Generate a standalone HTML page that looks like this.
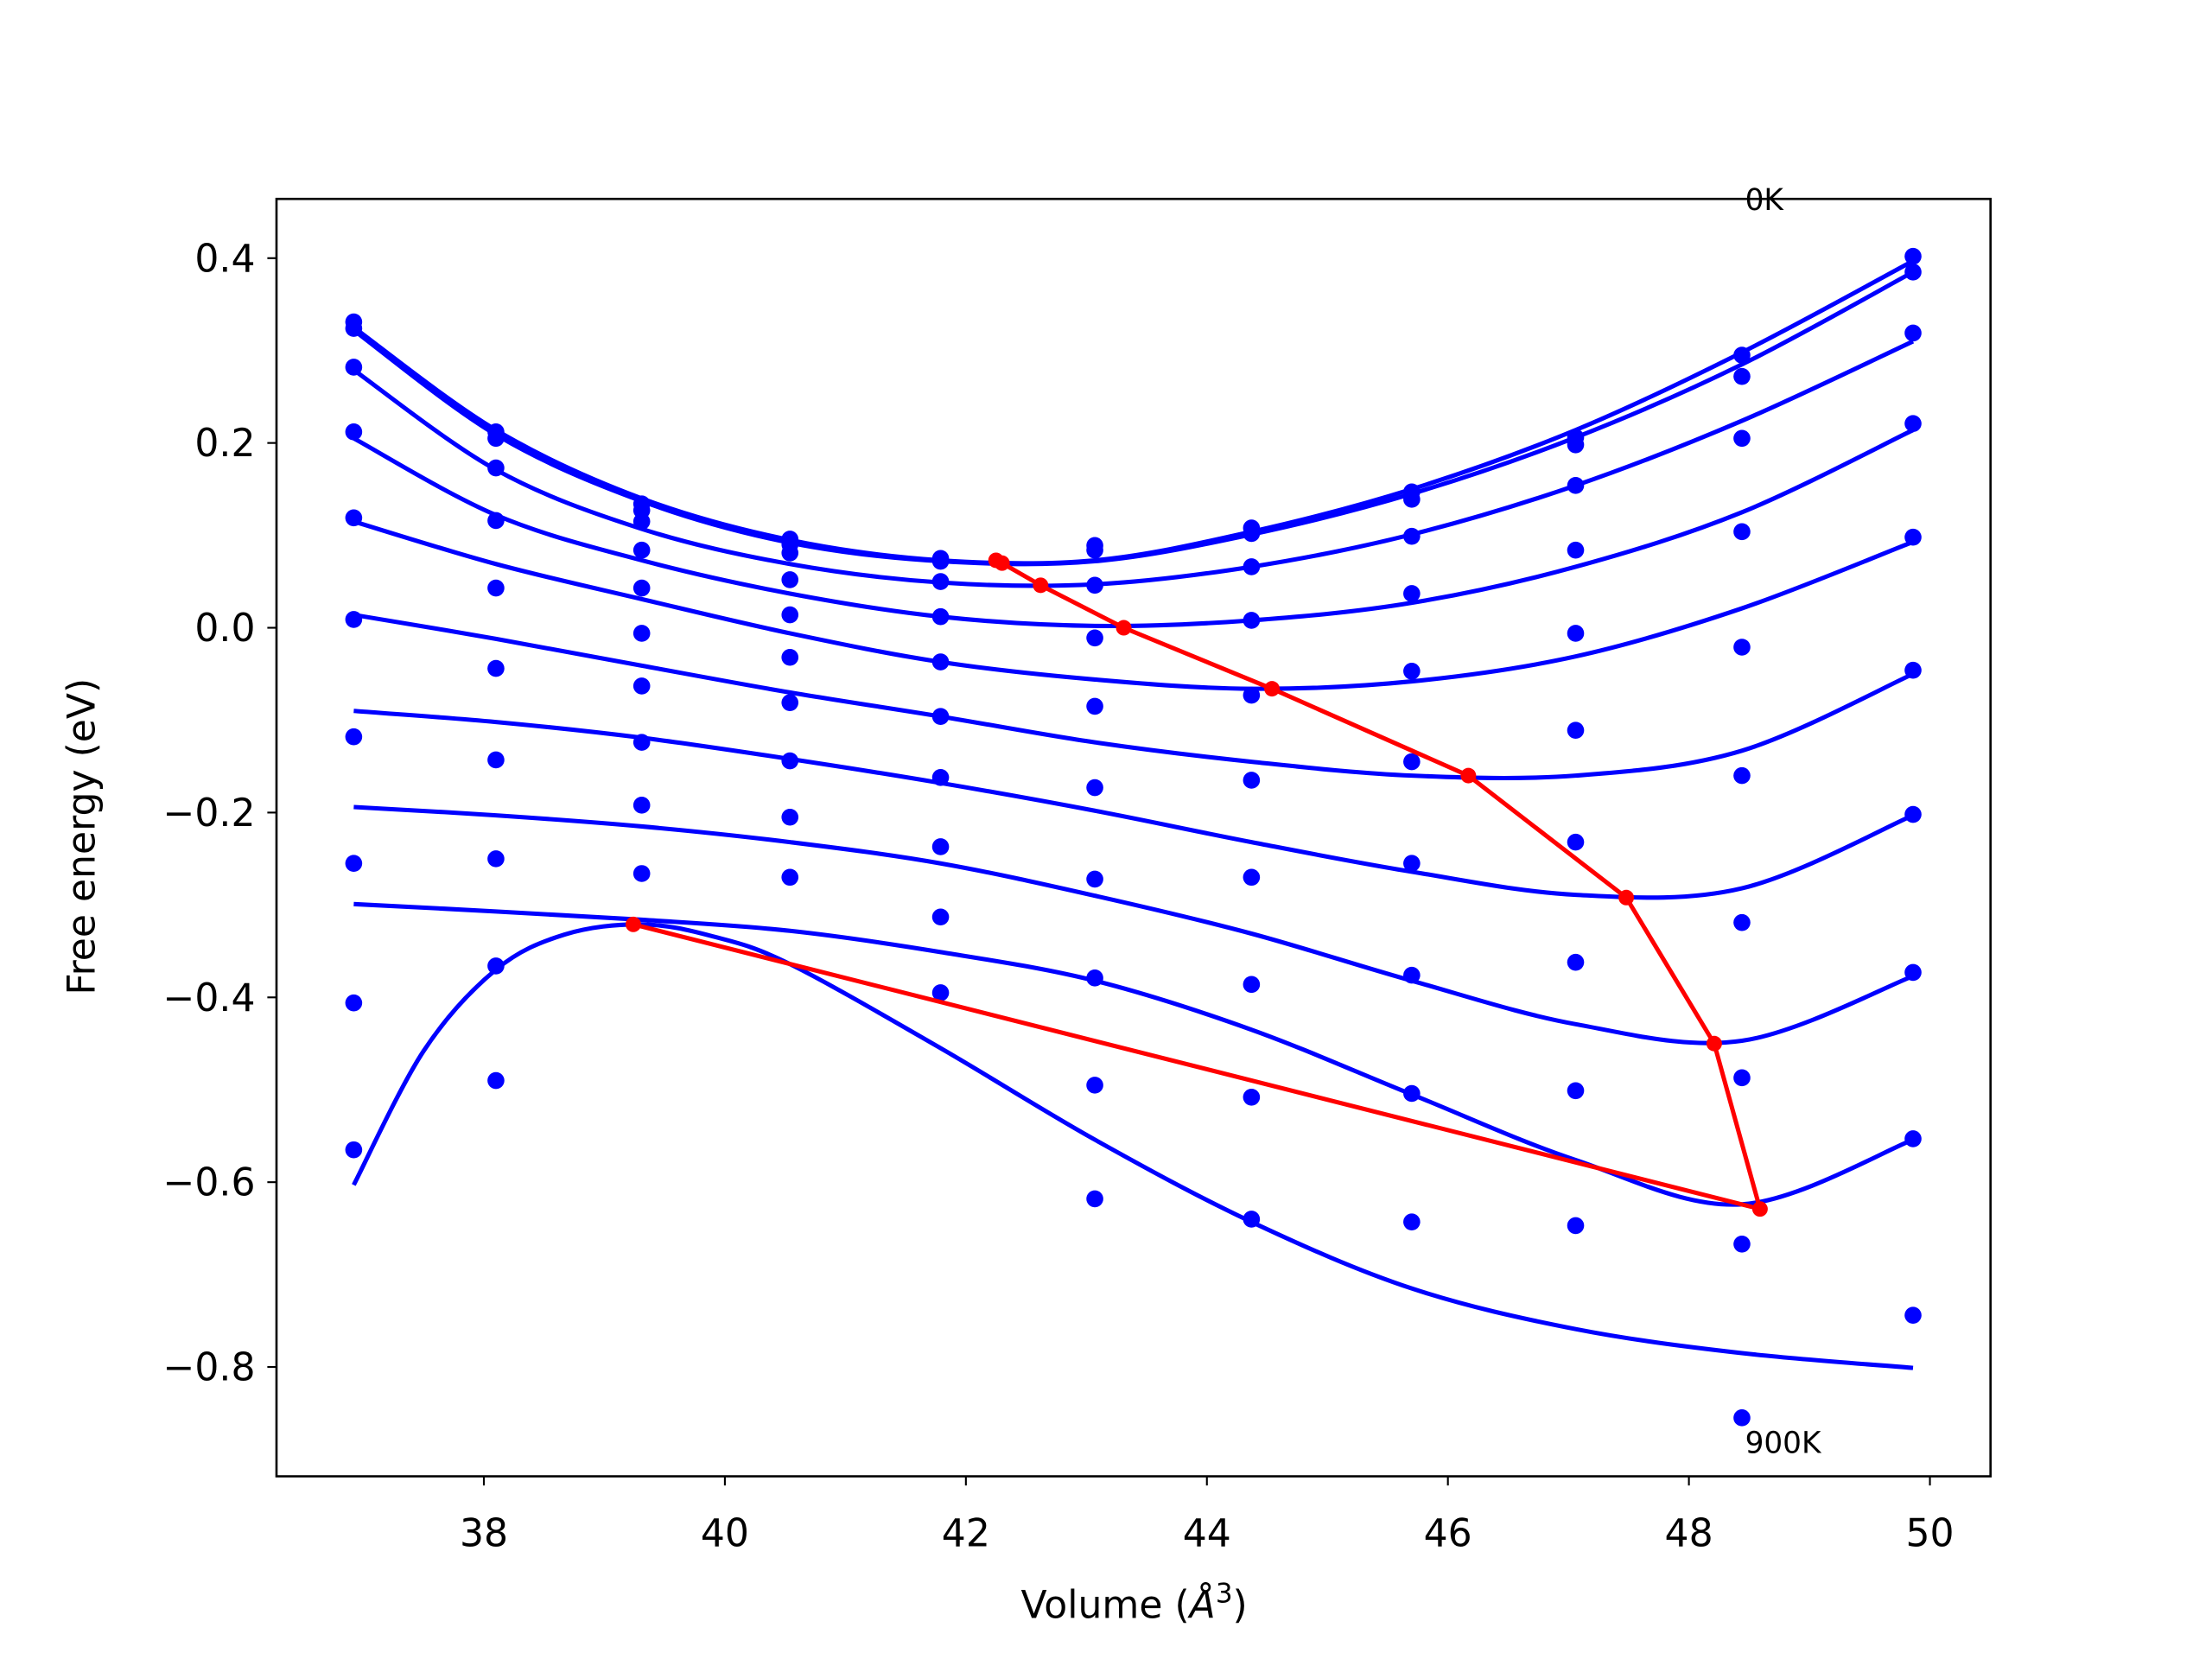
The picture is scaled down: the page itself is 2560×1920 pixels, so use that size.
<!DOCTYPE html>
<html><head><meta charset="utf-8"><style>
html,body{margin:0;padding:0;background:#fff;}
svg{display:block;font-family:"DejaVu Sans","Liberation Sans",sans-serif;}
</style></head><body>
<svg id="chart" width="2560" height="1920" viewBox="0 0 1568 1176" xmlns="http://www.w3.org/2000/svg">
<rect x="0" y="0" width="1568" height="1176" fill="#fff"/>
<g id="plot"></g>
<rect x="196" y="141" width="1215" height="905.5" fill="none" stroke="#000" stroke-width="1.6"/>
<g id="axes"></g>
<text x="804" y="1147" text-anchor="middle" font-size="27">Volume (<tspan font-style="italic">Å</tspan><tspan font-size="19" dy="-11">3</tspan><tspan dy="11">)</tspan></text>
<text transform="translate(67,593) rotate(-90)" text-anchor="middle" font-size="27">Free energy (eV)</text>
<text x="1237" y="149" font-size="21">0K</text>
<text x="1237" y="1030" font-size="21">900K</text>
</svg>
<script>
const volumes = [36.92,38.10,39.31,40.54,41.79,43.07,44.37,45.70,47.06,48.44,49.86];
const temperatures = ["0K","100K","200K","300K","400K","500K","600K","700K","800K","900K"];
const points0 = [0.331,0.212,0.134,0.096,0.075,0.089,0.108,0.147,0.206,0.295,0.402];
const points100 = [0.324,0.205,0.127,0.090,0.072,0.084,0.102,0.139,0.198,0.272,0.385];
const points200 = [0.282,0.173,0.115,0.081,0.050,0.046,0.066,0.099,0.154,0.205,0.319];
const points300 = [0.212,0.116,0.084,0.052,0.012,-0.011,0.008,0.037,0.084,0.104,0.221];
const points400 = [0.119,0.043,0.043,0.014,-0.037,-0.085,-0.073,-0.047,-0.006,-0.021,0.098];
const points500 = [0.009,-0.044,-0.006,-0.032,-0.096,-0.173,-0.165,-0.145,-0.111,-0.160,-0.046];
const points600 = [-0.118,-0.143,-0.063,-0.081,-0.162,-0.272,-0.270,-0.255,-0.232,-0.319,-0.202];
const points700 = [-0.255,-0.250,-0.124,-0.144,-0.237,-0.379,-0.386,-0.376,-0.362,-0.487,-0.373];
const points800 = [-0.406,-0.366,-0.192,-0.205,-0.313,-0.495,-0.508,-0.504,-0.501,-0.667,-0.553];
const points900 = [-0.565,-0.490,-0.266,-0.270,-0.395,-0.618,-0.640,-0.643,-0.647,-0.855,-0.744];
const fit0 = [0.325,0.214,0.140,0.095,0.073,0.073,0.104,0.150,0.214,0.298,0.397];
const fit100 = [0.322,0.209,0.137,0.092,0.072,0.072,0.101,0.145,0.206,0.285,0.385];
const fit200 = [0.279,0.171,0.107,0.069,0.049,0.047,0.066,0.101,0.154,0.224,0.310];
const fit300 = [0.205,0.122,0.073,0.037,0.012,0.002,0.008,0.027,0.066,0.125,0.214];
const fit400 = [0.115,0.069,0.031,-0.006,-0.037,-0.056,-0.066,-0.058,-0.031,0.021,0.093];
const fit500 = [0.014,-0.012,-0.041,-0.070,-0.096,-0.124,-0.145,-0.160,-0.160,-0.133,-0.050];
const fit600 = [-0.090,-0.102,-0.119,-0.142,-0.168,-0.198,-0.232,-0.264,-0.289,-0.282,-0.203];
const fit700 = [-0.194,-0.203,-0.215,-0.232,-0.255,-0.290,-0.331,-0.382,-0.429,-0.447,-0.377];
const fit800 = [-0.299,-0.307,-0.316,-0.328,-0.351,-0.382,-0.435,-0.505,-0.576,-0.624,-0.554];
const fit900V = [36.92,37.50,38.10,38.67,39.31,39.90,40.54,41.79,43.07,44.37,45.70,47.06,48.44,49.86];
const fit900 = [-0.603,-0.458,-0.370,-0.332,-0.321,-0.334,-0.364,-0.455,-0.554,-0.643,-0.715,-0.759,-0.785,-0.801];
const minV = [42.25,42.30,42.62,43.31,44.54,46.17,47.48,48.21,48.59,39.24];
const minE = [0.073,0.070,0.046,0.000,-0.066,-0.160,-0.292,-0.450,-0.629,-0.321];
const xTicks = [38,40,42,44,46,48,50];
const yTicks = [0.4,0.2,0.0,-0.2,-0.4,-0.6,-0.8];
const yTickLabels = ["0.4","0.2","0.0","\u22120.2","\u22120.4","\u22120.6","\u22120.8"];

const NS = "http://www.w3.org/2000/svg";
function sx(v){ return 343 + (v-38)*85.42; }
function sy(e){ return 183 - (e-0.4)*655; }
function mk(tag, attrs, parent){ const el=document.createElementNS(NS,tag); for(const k in attrs) el.setAttribute(k,attrs[k]); parent.appendChild(el); return el; }
function smooth(pts){
  let d = "M"+pts[0][0].toFixed(2)+","+pts[0][1].toFixed(2);
  for(let i=0;i<pts.length-1;i++){
    const p0=pts[Math.max(0,i-1)], p1=pts[i], p2=pts[i+1], p3=pts[Math.min(pts.length-1,i+2)];
    const c1=[p1[0]+(p2[0]-p0[0])/6, p1[1]+(p2[1]-p0[1])/6];
    const c2=[p2[0]-(p3[0]-p1[0])/6, p2[1]-(p3[1]-p1[1])/6];
    d += " C"+c1[0].toFixed(2)+","+c1[1].toFixed(2)+" "+c2[0].toFixed(2)+","+c2[1].toFixed(2)+" "+p2[0].toFixed(2)+","+p2[1].toFixed(2);
  }
  return d;
}
const plot = document.getElementById("plot");
const axes = document.getElementById("axes");
const pointSets=[points0,points100,points200,points300,points400,points500,points600,points700,points800,points900];
const fitSets=[fit0,fit100,fit200,fit300,fit400,fit500,fit600,fit700,fit800,fit900];
fitSets.forEach((f,i)=>{
  const vs = (i===9)?fit900V:volumes;
  const pts = f.map((e,j)=>[sx(vs[j]),sy(e)]);
  const p = mk("path",{d:smooth(pts),fill:"none",stroke:"#0000ff","stroke-width":3.1},plot);
  
  
});
pointSets.forEach((s,i)=>{
  s.forEach((e,j)=>{
    const c = mk("circle",{cx:sx(volumes[j]),cy:sy(e),r:6,fill:"#0000ff"},plot);
    
    
  });
});
const rl = mk("polyline",{points:minV.map((v,i)=>sx(v)+","+sy(minE[i])).join(" "),fill:"none",stroke:"#ff0000","stroke-width":3.1,"stroke-linejoin":"round"},plot);


minV.forEach((v,i)=>{
  const c = mk("circle",{cx:sx(v),cy:sy(minE[i]),r:5.5,fill:"#ff0000"},plot);
  
  
});
xTicks.forEach(t=>{
  const x=sx(t);
  const l = mk("line",{x1:x,y1:1046.5,x2:x,y2:1053,stroke:"#000","stroke-width":1.3},axes);
  
  
  const tx = mk("text",{x:x,y:1096,"text-anchor":"middle","font-size":27},axes);
  tx.textContent = String(t);
  
  
});
yTicks.forEach((t,i)=>{
  const y=sy(t);
  const l = mk("line",{x1:189.5,y1:y,x2:196,y2:y,stroke:"#000","stroke-width":1.3},axes);
  
  
  const tx = mk("text",{x:181,y:y+9.5,"text-anchor":"end","font-size":27},axes);
  tx.textContent = yTickLabels[i];
  
  
});
</script>
</body></html>
